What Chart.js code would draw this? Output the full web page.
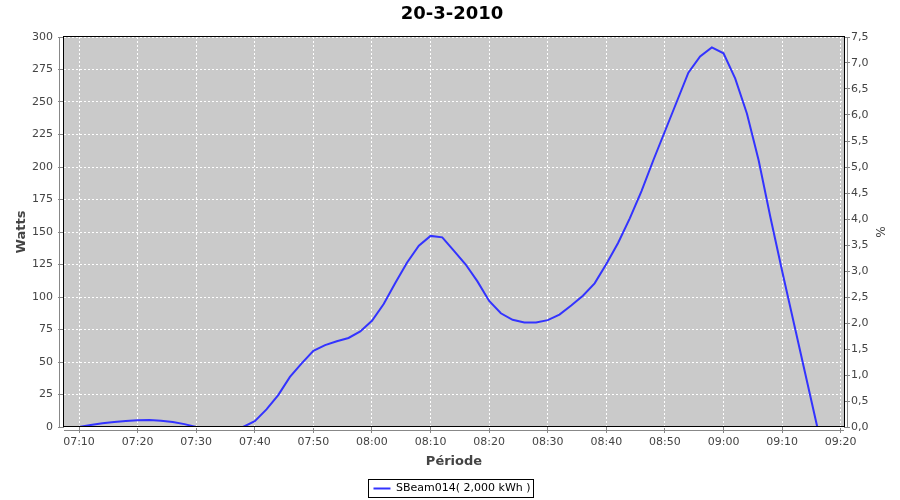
<!DOCTYPE html>
<html>
<head>
<meta charset="utf-8">
<script src="https://cdn.jsdelivr.net/npm/chart.js@4.4.0/dist/chart.umd.min.js"></script>
<style>
  body { margin: 0; background: #fff; }
  canvas { display: block; }
</style>
</head>
<body>
<canvas id="chart" width="900" height="500"></canvas>
<script>
// readings, one every 2 minutes
const times = ['07:10','07:12','07:14','07:16','07:18','07:20','07:22','07:24','07:26','07:28',
  '07:30','07:32','07:34','07:36','07:38','07:40','07:42','07:44','07:46','07:48',
  '07:50','07:52','07:54','07:56','07:58','08:00','08:02','08:04','08:06','08:08',
  '08:10','08:12','08:14','08:16','08:18','08:20','08:22','08:24','08:26','08:28',
  '08:30','08:32','08:34','08:36','08:38','08:40','08:42','08:44','08:46','08:48',
  '08:50','08:52','08:54','08:56','08:58','09:00','09:02','09:04','09:06','09:08',
  '09:10','09:12','09:14','09:16','09:18'];
const watts = [0, 1.5, 2.8, 3.8, 4.6, 5.2, 5.3, 4.8, 3.8, 2.2,
  0, 0, 0, 0, 0, 4.5, 13.5, 24.5, 38.5, 49,
  58.6, 63, 66, 68.5, 73.5, 81.7, 94.6, 111, 126.6, 139.5,
  147, 145.9, 135.5, 125, 112, 97, 87.5, 82.5, 80.4, 80.4,
  82.2, 86.5, 93.5, 101, 110.5, 125.4, 141.5, 160.5, 181.5, 205,
  227.5, 250, 272.5, 285, 292, 287.5, 268, 241, 205, 161.3,
  120, 80, 40, 0, 0];

const xTickLabels = ['07:10','07:20','07:30','07:40','07:50','08:00','08:10',
  '08:20','08:30','08:40','08:50','09:00','09:10','09:20'];
const seriesLabel = 'SBeam014( 2,000 kWh )';
const chartTitle = '20-3-2010';

const toMin = s => { const p = s.split(':'); return +p[0] * 60 + +p[1]; };
const fmtTime = v => {
  const h = Math.floor(v / 60), m = Math.round(v - h * 60);
  return String(h).padStart(2, '0') + ':' + String(m).padStart(2, '0');
};

const xFirst = toMin(times[0]);
const xLast = toMin(times[times.length - 1]);
const xPad = (xLast - xFirst) * 0.02;

Chart.defaults.font.family = 'DejaVu Sans';
Chart.defaults.font.size = 11;
Chart.defaults.color = '#444';

// plot background, black frame, offset gray axis lines, legend box
const framePlugin = {
  id: 'frame',
  beforeDraw(chart) {
    const { ctx, chartArea: a } = chart;
    ctx.save();
    ctx.fillStyle = '#fff';
    ctx.fillRect(0, 0, chart.width, chart.height);
    ctx.fillStyle = '#cacaca';
    ctx.fillRect(a.left, a.top, a.right - a.left, a.bottom - a.top);
    ctx.restore();
  },
  afterDatasetsDraw(chart) {
    const { ctx, chartArea: a } = chart;
    const l = Math.round(a.left), t = Math.round(a.top);
    const r = Math.round(a.right), b = Math.round(a.bottom);
    ctx.save();
    ctx.strokeStyle = '#000';
    ctx.lineWidth = 1;
    ctx.strokeRect(l - 0.5, t - 0.5, r - l + 1, b - t);
    ctx.strokeStyle = '#888';
    ctx.beginPath();
    ctx.moveTo(l - 4.5, t); ctx.lineTo(l - 4.5, b);
    ctx.moveTo(l, b + 3.5); ctx.lineTo(r, b + 3.5);
    ctx.moveTo(r + 3.5, t); ctx.lineTo(r + 3.5, b);
    ctx.stroke();
    const hb = chart.legend.legendHitBoxes[0];
    if (hb) {
      ctx.strokeStyle = '#000';
      ctx.strokeRect(Math.round(hb.left) - 4.5, Math.round(hb.top) - 3.5,
        Math.round(hb.width) + 8, Math.round(hb.height) + 7);
    }
    ctx.restore();
  }
};

const gridX = {
  color: '#fff', lineWidth: 1, tickLength: 6, tickColor: '#888', tickBorderDash: [], tickWidth: 1
};

new Chart(document.getElementById('chart'), {
  type: 'line',
  data: {
    datasets: [{
      label: seriesLabel,
      data: times.map((t, i) => ({ x: toMin(t), y: watts[i] })),
      borderColor: '#3333ff',
      backgroundColor: '#3333ff',
      borderWidth: 2,
      pointRadius: 0,
      tension: 0,
      fill: false,
      clip: 0,
      yAxisID: 'y'
    }]
  },
  options: {
    responsive: false,
    animation: false,
    layout: { padding: { left: 10, right: 6, top: 0, bottom: -4 } },
    plugins: {
      title: {
        display: true,
        text: chartTitle,
        color: '#000',
        font: { size: 18, weight: 'bold' },
        padding: { top: 4, bottom: 11.4 }
      },
      legend: {
        position: 'bottom',
        labels: {
          usePointStyle: true,
          pointStyle: 'line',
          pointStyleWidth: 17,
          padding: 2,
          color: '#000',
          font: { size: 11 }
        }
      },
      tooltip: { enabled: false }
    },
    scales: {
      x: {
        type: 'linear',
        min: xFirst - xPad,
        max: xLast + xPad,
        afterFit(scale) { scale.height = 54; },
        afterBuildTicks(scale) {
          scale.ticks = xTickLabels.map(l => ({ value: toMin(l) }));
        },
        ticks: {
          padding: 3,
          maxRotation: 0,
          autoSkip: false,
          callback: v => fmtTime(v)
        },
        grid: gridX,
        border: { display: false, dash: [2, 2] },
        title: {
          display: true,
          text: 'Période',
          font: { size: 13, weight: 'bold' },
          padding: { top: 0, bottom: 12 }
        }
      },
      y: {
        position: 'left',
        min: 0,
        max: 300,
        afterFit(scale) { scale.width = 54; },
        ticks: { stepSize: 25, padding: 5 },
        grid: gridX,
        border: { display: false, dash: [2, 2] },
        title: {
          display: true,
          text: 'Watts',
          font: { size: 13, weight: 'bold' },
          padding: { top: 4, bottom: 0 }
        }
      },
      y1: {
        position: 'right',
        min: 0,
        max: 7.5,
        afterFit(scale) { scale.width = 50; },
        ticks: {
          stepSize: 0.5,
          padding: 1,
          callback: v => v.toFixed(1).replace('.', ',')
        },
        grid: { drawOnChartArea: false, tickLength: 6, tickColor: '#888', tickBorderDash: [] },
        border: { display: false },
        title: {
          display: true,
          text: '%',
          font: { size: 12 },
          padding: { top: 8, bottom: 0 }
        }
      }
    }
  },
  plugins: [framePlugin]
});
</script>
</body>
</html>
